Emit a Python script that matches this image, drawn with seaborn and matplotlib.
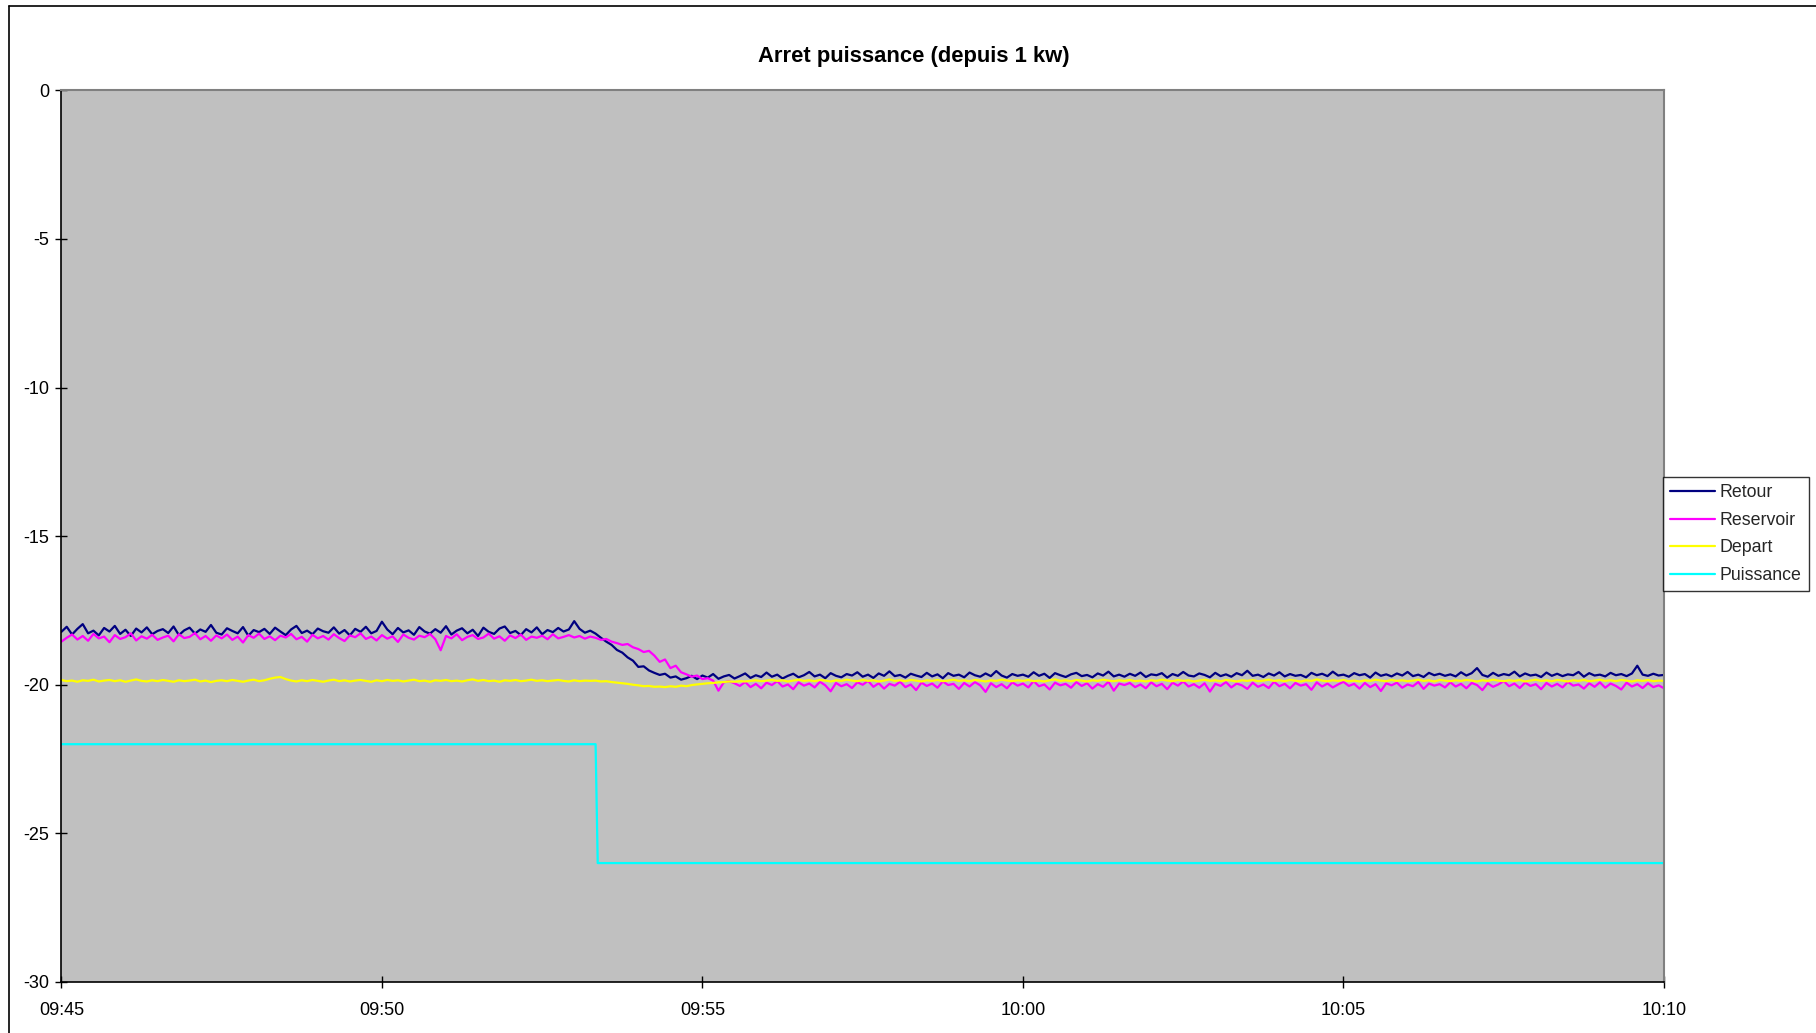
import numpy as np
import pandas as pd
import matplotlib
matplotlib.use("Agg")
import matplotlib.pyplot as plt
from matplotlib.lines import Line2D
import seaborn as sns

# ---------------------------------------------------------------- data
# Temperatures sampled every 5 s from 09:45:00 to 10:10:00 (301 samples)
sample_seconds = list(range(0, 1501, 5))

retour = [
    -18.22, -18.05, -18.31, -18.12, -17.96, -18.27, -18.18, -18.34, -18.09, -18.21,
    -18.02, -18.29, -18.15, -18.36, -18.11, -18.24, -18.07, -18.30, -18.19, -18.13,
    -18.26, -18.04, -18.33, -18.17, -18.08, -18.28, -18.14, -18.22, -17.99, -18.25,
    -18.31, -18.10, -18.19, -18.27, -18.06, -18.35, -18.16, -18.23, -18.12, -18.29,
    -18.08, -18.21, -18.33, -18.14, -18.02, -18.26, -18.18, -18.30, -18.11, -18.20,
    -18.25, -18.07, -18.28, -18.16, -18.34, -18.12, -18.22, -18.05, -18.27, -18.19,
    -17.88, -18.14, -18.30, -18.09, -18.24, -18.17, -18.32, -18.06, -18.21, -18.28,
    -18.13, -18.25, -18.03, -18.31, -18.18, -18.10, -18.27, -18.15, -18.36, -18.08,
    -18.22, -18.29, -18.11, -18.04, -18.26, -18.19, -18.33, -18.13, -18.24, -18.07,
    -18.30, -18.16, -18.23, -18.09, -18.21, -18.14, -17.86, -18.12, -18.25, -18.18,
    -18.28, -18.42, -18.55, -18.66, -18.83, -18.92, -19.08, -19.19, -19.40, -19.38,
    -19.52, -19.60, -19.67, -19.63, -19.76, -19.72, -19.83,
    -19.78, -19.70, -19.81,
    -19.69, -19.76, -19.64, -19.80, -19.72, -19.67, -19.79, -19.71, -19.62, -19.77,
    -19.68, -19.74, -19.59, -19.73, -19.66, -19.79, -19.70, -19.63, -19.75, -19.68,
    -19.57, -19.72, -19.66, -19.78, -19.61, -19.70, -19.75, -19.64, -19.69, -19.58,
    -19.73, -19.66, -19.77, -19.62, -19.70, -19.55, -19.71, -19.67, -19.76, -19.63,
    -19.69, -19.74, -19.60, -19.72, -19.65, -19.78, -19.61, -19.70, -19.66, -19.75,
    -19.59, -19.68, -19.73, -19.62, -19.71, -19.54, -19.69, -19.76, -19.64, -19.70,
    -19.66, -19.73, -19.58, -19.70, -19.63, -19.77, -19.61, -19.68, -19.74, -19.65,
    -19.60, -19.71, -19.67, -19.75, -19.62, -19.69, -19.56, -19.72, -19.66, -19.73,
    -19.63, -19.70, -19.59, -19.74, -19.65, -19.68, -19.61, -19.76, -19.64, -19.70,
    -19.57, -19.69, -19.72, -19.62, -19.67, -19.75, -19.60, -19.71, -19.65, -19.73,
    -19.61, -19.68, -19.53, -19.70, -19.66, -19.74, -19.62, -19.69, -19.58, -19.72,
    -19.64, -19.70, -19.67, -19.75, -19.60, -19.68, -19.63, -19.71, -19.56, -19.69,
    -19.66, -19.73, -19.61, -19.68, -19.64, -19.76, -19.59, -19.70, -19.65, -19.72,
    -19.62, -19.69, -19.57, -19.71, -19.66, -19.74, -19.60, -19.68, -19.63, -19.70,
    -19.65, -19.72, -19.58, -19.69, -19.61, -19.44, -19.67, -19.73, -19.60, -19.70,
    -19.64, -19.68, -19.56, -19.72, -19.62, -19.69, -19.66, -19.74, -19.59, -19.70,
    -19.63, -19.71, -19.65, -19.68, -19.57, -19.73, -19.61, -19.69, -19.66, -19.72,
    -19.60, -19.68, -19.64, -19.71, -19.62, -19.36, -19.66, -19.70, -19.63, -19.69,
    -19.67,
]

reservoir = [
    -18.55, -18.42, -18.31, -18.48, -18.36, -18.52, -18.29, -18.44, -18.38, -18.57,
    -18.33, -18.46, -18.40, -18.27, -18.51, -18.37, -18.45, -18.32, -18.49, -18.41,
    -18.35, -18.54, -18.30, -18.43, -18.39, -18.26, -18.47, -18.36, -18.52, -18.34,
    -18.44, -18.31, -18.49, -18.38, -18.58, -18.33, -18.42, -18.28, -18.46, -18.37,
    -18.50, -18.35, -18.41, -18.29, -18.47, -18.39, -18.55, -18.32, -18.44, -18.36,
    -18.48, -18.30, -18.43, -18.53, -18.34, -18.40, -18.27, -18.46, -18.38, -18.51,
    -18.33, -18.45, -18.37, -18.56, -18.31, -18.42, -18.48, -18.35, -18.40, -18.29,
    -18.47, -18.84, -18.36, -18.44, -18.30, -18.50, -18.39, -18.33, -18.46, -18.41,
    -18.28, -18.45, -18.37, -18.52, -18.34, -18.43, -18.31, -18.49, -18.38, -18.42,
    -18.35, -18.47, -18.30, -18.44, -18.39, -18.33, -18.41, -18.36, -18.45, -18.38,
    -18.42, -18.49, -18.46, -18.55, -18.60, -18.66, -18.63, -18.74, -18.80, -18.90,
    -18.86, -19.02, -19.23, -19.15, -19.44, -19.36, -19.58, -19.65, -19.73, -19.69,
    -19.81, -19.78, -19.86, -20.20, -19.92, -19.88,
    -19.95, -20.04, -19.91, -20.08,
    -19.97, -20.12, -19.93, -20.01, -19.88, -20.06, -19.99, -20.15, -19.92, -20.03,
    -19.96, -20.09, -19.90, -20.02, -20.22, -19.94, -20.05, -19.98, -20.11, -19.92,
    -20.00, -19.87, -20.07, -19.95, -20.13, -19.97, -20.03, -19.90, -20.08, -19.99,
    -20.18, -19.93, -20.04, -19.96, -20.10, -19.89, -20.01, -19.97, -20.14, -19.94,
    -20.06, -19.91, -20.02, -20.24, -19.95, -20.08, -19.98, -20.12, -19.92, -20.03,
    -19.96, -20.09, -19.88, -20.05, -19.99, -20.16, -19.93, -20.02, -19.97, -20.10,
    -19.91, -20.04, -19.95, -20.13, -19.98, -20.07, -19.90, -20.20, -19.96, -20.01,
    -19.94, -20.08, -19.99, -20.12, -19.92, -20.05, -19.97, -20.15, -19.93, -20.03,
    -19.89, -20.06, -19.98, -20.10, -19.95, -20.23, -19.97, -20.04, -19.91, -20.09,
    -19.96, -20.02, -20.14, -19.93, -20.07, -19.99, -20.11, -19.90, -20.05, -19.97,
    -20.12, -19.94, -20.03, -19.98, -20.17, -19.92, -20.06, -19.96, -20.09, -19.99,
    -19.90, -20.04, -19.97, -20.13, -19.94, -20.08, -19.98, -20.21, -19.95, -20.02,
    -19.93, -20.10, -19.99, -20.05, -19.91, -20.14, -19.96, -20.03, -19.98, -20.09,
    -19.92, -20.06, -19.97, -20.12, -19.94, -20.01, -20.18, -19.95, -20.07, -19.99,
    -19.88, -20.05, -19.96, -20.11, -19.93, -20.04, -19.98, -20.15, -19.94, -20.06,
    -19.97, -20.09, -19.91, -20.03, -19.99, -20.13, -19.95, -20.07, -19.92, -20.10,
    -19.96, -20.04, -20.16, -19.93, -20.06, -19.98, -20.11, -19.95, -20.08, -20.02,
    -20.12,
]

depart = [
    -19.84, -19.88, -19.86, -19.90, -19.85, -19.87, -19.83, -19.89, -19.86, -19.84,
    -19.88, -19.85, -19.90, -19.86, -19.82, -19.87, -19.89, -19.85, -19.88, -19.84,
    -19.87, -19.90, -19.85, -19.88, -19.86, -19.83, -19.89, -19.86, -19.91, -19.87,
    -19.85, -19.88, -19.84, -19.87, -19.90, -19.86, -19.83, -19.88, -19.85, -19.80,
    -19.76, -19.74, -19.81, -19.86, -19.89, -19.85, -19.88, -19.84, -19.87, -19.90,
    -19.86, -19.83, -19.88, -19.85, -19.89, -19.86, -19.84, -19.87, -19.90, -19.85,
    -19.88, -19.84, -19.87, -19.85, -19.89, -19.86, -19.83, -19.88, -19.86, -19.90,
    -19.85, -19.87, -19.84, -19.88, -19.86, -19.89, -19.85, -19.82, -19.87, -19.84,
    -19.88, -19.86, -19.90, -19.85, -19.87, -19.84, -19.88, -19.86, -19.83, -19.87,
    -19.85, -19.88, -19.86, -19.84, -19.87, -19.89, -19.85, -19.88, -19.86, -19.87,
    -19.86, -19.89, -19.88, -19.91, -19.93, -19.95, -19.97, -20.00, -20.02, -20.05,
    -20.04, -20.07, -20.06, -20.08, -20.05, -20.07, -20.03, -20.05, -20.01, -19.99,
    -19.97, -19.95, -19.94, -19.92, -19.91, -19.89, -19.90, -19.88, -19.89, -19.87,
    -19.85, -19.88, -19.86, -19.84, -19.87, -19.85, -19.89, -19.86, -19.83, -19.87,
    -19.85, -19.88, -19.84, -19.86, -19.89, -19.85, -19.87, -19.83, -19.86, -19.88,
    -19.84, -19.87, -19.85, -19.89, -19.86, -19.82, -19.87, -19.85, -19.88, -19.84,
    -19.86, -19.89, -19.85, -19.87, -19.84, -19.88, -19.86, -19.83, -19.87, -19.85,
    -19.88, -19.84, -19.86, -19.89, -19.85, -19.87, -19.83, -19.86, -19.88, -19.85,
    -19.87, -19.84, -19.88, -19.86, -19.89, -19.85, -19.82, -19.87, -19.85, -19.88,
    -19.84, -19.86, -19.89, -19.85, -19.87, -19.83, -19.86, -19.88, -19.85, -19.87,
    -19.84, -19.88, -19.86, -19.89, -19.85, -19.87, -19.83, -19.86, -19.88, -19.84,
    -19.87, -19.85, -19.89, -19.86, -19.83, -19.87, -19.85, -19.88, -19.84, -19.86,
    -19.89, -19.85, -19.87, -19.84, -19.88, -19.86, -19.83, -19.87, -19.85, -19.88,
    -19.84, -19.86, -19.89, -19.85, -19.87, -19.82, -19.86, -19.88, -19.85, -19.87,
    -19.84, -19.88, -19.86, -19.89, -19.85, -19.87, -19.83, -19.86, -19.88, -19.84,
    -19.87, -19.85, -19.88, -19.86, -19.83, -19.87, -19.85, -19.89, -19.84, -19.86,
    -19.88, -19.85, -19.87, -19.84, -19.86, -19.89, -19.85, -19.87, -19.83, -19.86,
    -19.88, -19.85, -19.87, -19.84, -19.89, -19.86, -19.83, -19.87, -19.85, -19.88,
    -19.84, -19.86, -19.89, -19.85, -19.87, -19.84, -19.88, -19.86, -19.83, -19.87,
    -19.85, -19.88, -19.84, -19.86, -19.89, -19.85, -19.87, -19.84, -19.88, -19.86,
    -19.87,
]

# Heater power command: step from -22 to -26 at 09:53:20
puissance_seconds = [0, 500, 502, 1500]
puissance = [-22.0, -22.0, -26.0, -26.0]

series_names = ["Retour", "Reservoir", "Depart", "Puissance"]
series_colors = ["#000080", "#FF00FF", "#FFFF00", "#00FFFF"]
tick_labels = ["09:45", "09:50", "09:55", "10:00", "10:05", "10:10"]
y_ticks = [0, -5, -10, -15, -20, -25, -30]
title = "Arret puissance (depuis 1 kw)"

# ---------------------------------------------------------------- frame
start = pd.Timestamp("2000-01-01 09:45:00")


def to_time(seconds):
    return start + pd.to_timedelta(seconds, unit="s")


frames = []
for name, secs, vals in [
    ("Retour", sample_seconds, retour),
    ("Reservoir", sample_seconds, reservoir),
    ("Depart", sample_seconds, depart),
    ("Puissance", puissance_seconds, puissance),
]:
    frames.append(pd.DataFrame({"time": to_time(secs), "value": vals, "serie": name}))
df = pd.concat(frames, ignore_index=True)

# ---------------------------------------------------------------- plot
sns.set_theme(style="white")
plt.rcParams["font.family"] = ["Liberation Sans", "DejaVu Sans"]

fig = plt.figure(figsize=(18.16, 10.33), dpi=100)
fig.patch.set_facecolor("white")
ax = fig.add_axes([0.0338, 0.0494, 0.9163 - 0.0338, 0.9126 - 0.0494])
ax.set_facecolor("#C0C0C0")

sns.lineplot(
    data=df, x="time", y="value", hue="serie",
    hue_order=series_names, palette=dict(zip(series_names, series_colors)),
    estimator=None, sort=False, linewidth=1.6, ax=ax, legend=False,
)

tick_pos = [start + pd.Timedelta(minutes=5 * i) for i in range(len(tick_labels))]
ax.set_xlim(tick_pos[0], tick_pos[-1])
ax.set_xticks(tick_pos)
ax.set_xticklabels(tick_labels)
ax.set_ylim(-30, 0)
ax.set_yticks(y_ticks)
ax.set_yticklabels([str(v) for v in y_ticks])
ax.set_xlabel("")
ax.set_ylabel("")
ax.grid(False)

ax.tick_params(axis="both", direction="inout", length=9, width=1.0,
               colors="black", labelsize=13, left=True, bottom=True)
ax.tick_params(axis="x", pad=10)
ax.tick_params(axis="y", pad=4)

for side in ["left", "bottom"]:
    ax.spines[side].set_color("black")
    ax.spines[side].set_linewidth(1.2)
for side in ["top", "right"]:
    ax.spines[side].set_color("#808080")
    ax.spines[side].set_linewidth(1.5)

fig.text(0.503, 0.945, title, ha="center", va="center",
         fontsize=15.8, fontweight="bold", color="black")

handles = [Line2D([0], [0], color=c, lw=1.6) for c in series_colors]
leg = fig.legend(
    handles, series_names, loc="upper left", bbox_to_anchor=(0.9158, 0.5382),
    bbox_transform=fig.transFigure, frameon=True, fancybox=False, shadow=False,
    fontsize=12.8, handlelength=2.5, handletextpad=0.3, labelspacing=0.6,
    borderpad=0.4, borderaxespad=0.0,
)
leg.get_frame().set_edgecolor("black")
leg.get_frame().set_linewidth(1.0)
leg.get_frame().set_facecolor("white")

# outer chart-area border (top and left edges)
fig.add_artist(Line2D([0.005, 1.0], [0.9942, 0.9942], color="black", lw=1.2,
                      transform=fig.transFigure))
fig.add_artist(Line2D([0.005, 0.005], [0.0, 0.9942], color="black", lw=1.2,
                      transform=fig.transFigure))

fig.savefig("out.png", dpi=100, facecolor="white")
